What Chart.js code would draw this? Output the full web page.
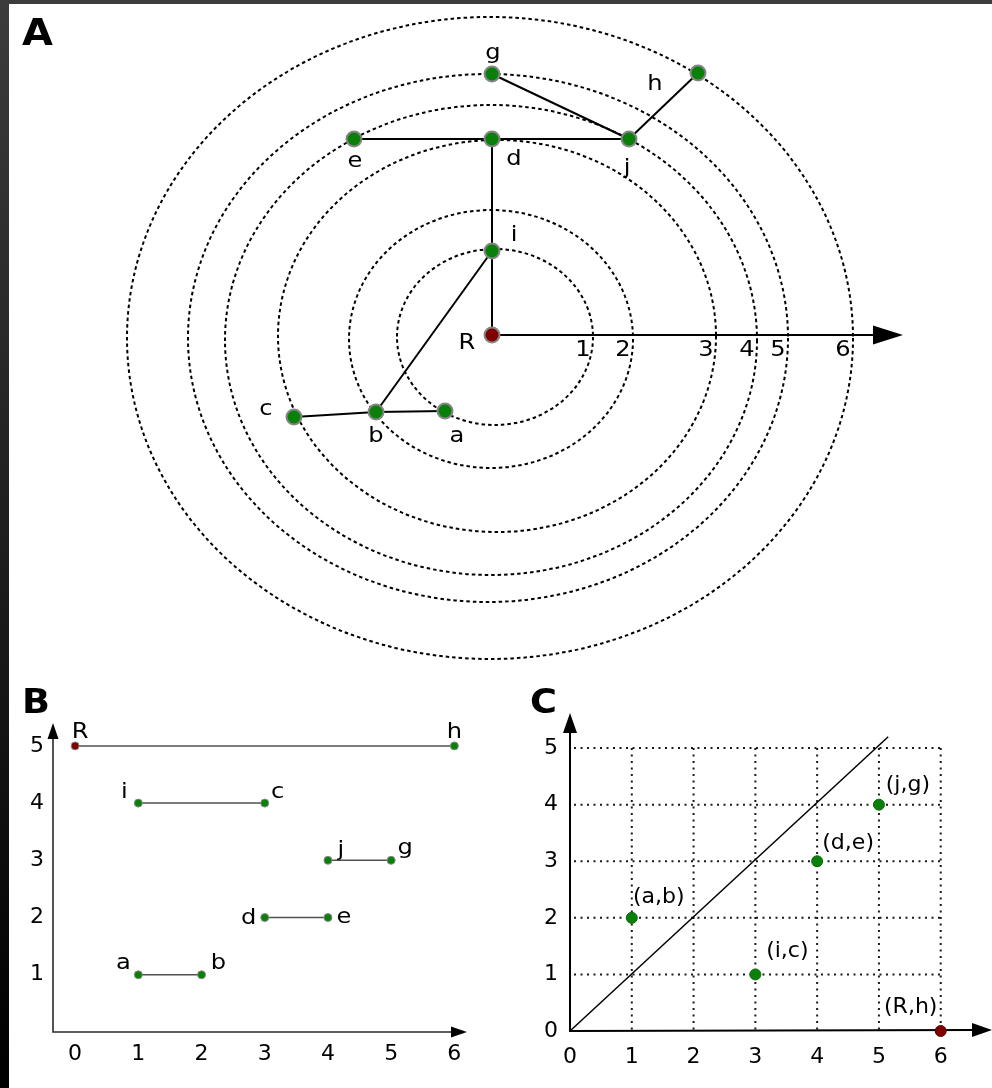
<!DOCTYPE html>
<html>
<head>
<meta charset="utf-8">
<script src="https://cdn.jsdelivr.net/npm/chart.js@4.4.1/dist/chart.umd.min.js"></script>
<style>
  html, body { margin: 0; padding: 0; background: #fff; }
  body { width: 992px; height: 1088px; position: relative; overflow: hidden; }
  #edgeLeft { position: absolute; left: 0; top: 0; width: 9px; height: 1088px; background: linear-gradient(#3c3c3c, #000); z-index: 5; }
  #edgeTop { position: absolute; left: 0; top: 0; width: 992px; height: 4px; background: #3c3c3c; z-index: 5; }
  canvas { position: absolute; display: block; }
</style>
</head>
<body>
<div id="edgeLeft"></div>
<div id="edgeTop"></div>
<canvas id="chartA" width="992" height="680" style="left:0;top:0"></canvas>
<canvas id="chartB" width="480" height="408" style="left:0;top:680px"></canvas>
<canvas id="chartC" width="482" height="408" style="left:510px;top:680px"></canvas>
<script>
// ---------- Panel A: tree of nodes on nested filtration rings ----------
// node plane coordinates (origin at the root R, y pointing up)
const nodeNames = ['R', 'i', 'd', 'g', 'e', 'j', 'h', 'c', 'b', 'a'];
const nodeX = [0, 0, 0, 0, -138, 137, 206, -198, -116, -47];
const nodeY = [0, 84, 196, 261, 196, 196, 262, -82, -77, -76];
const edges = [['R', 'i'], ['i', 'd'], ['d', 'e'], ['d', 'j'], ['j', 'g'], ['j', 'h'], ['i', 'b'], ['b', 'c'], ['b', 'a']];
// rings: level value, centre and half-axes in plane units
const levels = [1, 2, 3, 4, 5, 6];
const ringCx = [3, -1, 5, -1, -4, -2];
const ringCy = [-2, -4, -1, -5, -3, -3];
const ringRx = [98, 142, 219, 266, 300, 363];
const ringRy = [88, 129, 196, 235, 264, 321];
const axisEndA = 411;

// ---------- Panel B: barcode ----------
const barStart = ['R', 'i', 'j', 'd', 'a'];
const barEnd = ['h', 'c', 'g', 'e', 'b'];
const barBirth = [0, 1, 4, 3, 1];
const barDeath = [6, 3, 5, 4, 2];
const barRow = [5, 4, 3, 2, 1];
const bTicksX = [0, 1, 2, 3, 4, 5, 6];
const bTicksY = [1, 2, 3, 4, 5];

// ---------- Panel C: persistence diagram ----------
const pairNames = ['(a,b)', '(i,c)', '(d,e)', '(j,g)', '(R,h)'];
const pairX = [1, 3, 4, 5, 6];
const pairY = [2, 1, 3, 4, 0];
const diagX = [0, 5.15];
const diagY = [0, 5.2];
const cTicksX = [0, 1, 2, 3, 4, 5, 6];
const cTicksY = [0, 1, 2, 3, 4, 5];

// ---------- styling ----------
const GREEN = '#0a800a';
const DARKRED = '#800000';
const FONT = '"DejaVu Sans", sans-serif';
const TEXT_STRETCH = 1.15;
Chart.defaults.font.family = FONT;
Chart.defaults.color = '#000';
Chart.defaults.animation = false;

const labelA = { R: [-25, 9], i: [22, -15], d: [22, 21], g: [1, -20], e: [1, 23], j: [-2, 30], h: [-43, 12], c: [-28, -7], b: [0, 25], a: [12, 26] };
const labelB = { R: [5, -13], h: [0, -13], i: [-14, -11], c: [13, -11], j: [13, -10], g: [14, -12], d: [-16, 1], e: [16, 0], a: [-15, -11], b: [17, -11] };
const labelC = [[27, -20], [32, -23], [31, -18], [29, -19], [-30, -23]];

function arrowHead(ctx, tx, ty, dir, len, half) {
  ctx.beginPath();
  if (dir === 'right') {
    ctx.moveTo(tx, ty); ctx.lineTo(tx - len, ty - half); ctx.lineTo(tx - len, ty + half);
  } else {
    ctx.moveTo(tx, ty); ctx.lineTo(tx - half, ty + len); ctx.lineTo(tx + half, ty + len);
  }
  ctx.closePath();
  ctx.fill();
}

// text drawn slightly widened around its anchor
function wideText(ctx, text, x, y, sx) {
  ctx.save();
  ctx.translate(x, y);
  ctx.scale(sx, 1);
  ctx.fillText(text, 0, 0);
  ctx.restore();
}

function panelLetter(ctx, letter, x, y, size) {
  ctx.font = 'bold ' + size + 'px ' + FONT;
  ctx.textAlign = 'left';
  ctx.textBaseline = 'alphabetic';
  wideText(ctx, letter, x, y, 1.08);
}

const nodeIndex = n => nodeNames.indexOf(n);

// ===== Chart A =====
const ringsPlugin = {
  id: 'rings',
  beforeDatasetsDraw(chart) {
    const { ctx, scales: { x, y } } = chart;
    ctx.save();
    ctx.strokeStyle = '#000';
    ctx.fillStyle = '#000';
    ctx.lineWidth = 2;
    ctx.setLineDash([3.5, 3]);
    ringRx.forEach((rx, k) => {
      const cx = x.getPixelForValue(ringCx[k]);
      const cy = y.getPixelForValue(ringCy[k]);
      const prx = x.getPixelForValue(ringCx[k] + rx) - cx;
      const pry = cy - y.getPixelForValue(ringCy[k] + ringRy[k]);
      ctx.beginPath();
      ctx.ellipse(cx, cy, prx, pry, 0, 0, Math.PI * 2);
      ctx.stroke();
    });
    ctx.setLineDash([]);
    const ox = x.getPixelForValue(0), oy = y.getPixelForValue(0);
    const tip = x.getPixelForValue(axisEndA);
    ctx.beginPath();
    ctx.moveTo(ox, oy);
    ctx.lineTo(tip - 28, oy);
    ctx.stroke();
    arrowHead(ctx, tip, oy, 'right', 30, 9.5);
    ctx.font = '21px ' + FONT;
    ctx.textAlign = 'center';
    ctx.textBaseline = 'middle';
    levels.forEach((lv, k) => {
      const px = x.getPixelForValue(ringCx[k] + ringRx[k]);
      wideText(ctx, String(lv), px - 10, oy + 16, TEXT_STRETCH);
    });
    ctx.restore();
  },
  afterDatasetsDraw(chart) {
    const { ctx, scales: { x, y } } = chart;
    ctx.save();
    ctx.fillStyle = '#000';
    ctx.font = '21px ' + FONT;
    ctx.textAlign = 'center';
    ctx.textBaseline = 'middle';
    nodeNames.forEach((n, k) => {
      const off = labelA[n];
      wideText(ctx, n, x.getPixelForValue(nodeX[k]) + off[0], y.getPixelForValue(nodeY[k]) + off[1], TEXT_STRETCH);
    });
    panelLetter(ctx, 'A', 22, 45, 37);
    ctx.restore();
  }
};

const edgeSets = edges.map(([p, q]) => ({
  type: 'line',
  order: 1,
  data: [{ x: nodeX[nodeIndex(p)], y: nodeY[nodeIndex(p)] }, { x: nodeX[nodeIndex(q)], y: nodeY[nodeIndex(q)] }],
  borderColor: '#000',
  borderWidth: 2,
  pointRadius: 0,
  showLine: true,
  clip: false
}));

new Chart(document.getElementById('chartA'), {
  type: 'scatter',
  data: {
    datasets: [{
      order: 0,
      data: nodeNames.map((n, k) => ({ x: nodeX[k], y: nodeY[k] })),
      pointRadius: 7.5,
      pointBackgroundColor: nodeNames.map(n => n === 'R' ? DARKRED : GREEN),
      pointBorderColor: '#858585',
      pointBorderWidth: 2,
      clip: false
    }, ...edgeSets]
  },
  options: {
    responsive: false,
    layout: { padding: 0, autoPadding: false },
    plugins: { legend: { display: false }, tooltip: { enabled: false } },
    events: [],
    scales: {
      x: { type: 'linear', display: false, min: -492, max: 500 },
      y: { type: 'linear', display: false, min: -345, max: 335 }
    }
  },
  plugins: [ringsPlugin]
});

// ===== Chart B =====
const barcodePlugin = {
  id: 'barcodeAxes',
  beforeDatasetsDraw(chart) {
    const { ctx, chartArea: a } = chart;
    ctx.save();
    ctx.strokeStyle = '#2a2a2a';
    ctx.fillStyle = '#000';
    ctx.lineWidth = 1.6;
    ctx.beginPath();
    ctx.moveTo(a.left, a.top + 14);
    ctx.lineTo(a.left, a.bottom);
    ctx.lineTo(a.right - 14, a.bottom);
    ctx.stroke();
    arrowHead(ctx, a.left, a.top, 'up', 16, 5.5);
    arrowHead(ctx, a.right, a.bottom, 'right', 16, 5.5);
    ctx.restore();
  },
  afterDatasetsDraw(chart) {
    const { ctx, scales: { x, y } } = chart;
    ctx.save();
    ctx.fillStyle = '#000';
    ctx.font = '21px ' + FONT;
    ctx.textAlign = 'center';
    ctx.textBaseline = 'middle';
    barRow.forEach((r, k) => {
      const py = y.getPixelForValue(r);
      const s = labelB[barStart[k]], e = labelB[barEnd[k]];
      wideText(ctx, barStart[k], x.getPixelForValue(barBirth[k]) + s[0], py + s[1], TEXT_STRETCH);
      wideText(ctx, barEnd[k], x.getPixelForValue(barDeath[k]) + e[0], py + e[1], TEXT_STRETCH);
    });
    panelLetter(ctx, 'B', 22, 33, 34);
    ctx.restore();
  }
};

new Chart(document.getElementById('chartB'), {
  type: 'scatter',
  data: {
    datasets: barRow.map((r, k) => ({
      type: 'line',
      data: [{ x: barBirth[k], y: r }, { x: barDeath[k], y: r }],
      showLine: true,
      borderColor: '#505050',
      borderWidth: 1.5,
      pointRadius: 4,
      pointBorderWidth: 1,
      pointBorderColor: '#8a8a8a',
      pointBackgroundColor: [barStart[k] === 'R' ? DARKRED : GREEN, GREEN],
      clip: false
    }))
  },
  options: {
    responsive: false,
    layout: { padding: { top: 43, right: 13, left: 0, bottom: 0 }, autoPadding: false },
    plugins: { legend: { display: false }, tooltip: { enabled: false } },
    events: [],
    scales: {
      x: {
        type: 'linear', min: -0.35, max: 6.2,
        afterBuildTicks: s => { s.ticks = bTicksX.map(v => ({ value: v })); },
        afterFit: s => { s.height = 56; },
        grid: { display: false, drawTicks: false },
        border: { display: false },
        ticks: { font: { size: 22 }, padding: 9, color: '#000' }
      },
      y: {
        type: 'linear', min: 0, max: 5.4,
        afterBuildTicks: s => { s.ticks = bTicksY.map(v => ({ value: v })); },
        afterFit: s => { s.width = 53; },
        grid: { display: false, drawTicks: false },
        border: { display: false },
        ticks: { font: { size: 22 }, padding: 9, color: '#000' }
      }
    }
  },
  plugins: [barcodePlugin]
});

// ===== Chart C =====
const diagramPlugin = {
  id: 'diagramAxes',
  beforeDatasetsDraw(chart) {
    const { ctx, chartArea: a, scales: { x, y } } = chart;
    ctx.save();
    // dotted grid bounded by the last tick values
    const xEnd = cTicksX[cTicksX.length - 1], yEnd = cTicksY[cTicksY.length - 1];
    ctx.strokeStyle = '#1a1a1a';
    ctx.lineWidth = 2;
    ctx.setLineDash([2, 4.5]);
    cTicksX.slice(1).forEach(v => {
      const px = x.getPixelForValue(v);
      ctx.beginPath();
      ctx.moveTo(px, y.getPixelForValue(yEnd));
      ctx.lineTo(px, y.getPixelForValue(0));
      ctx.stroke();
    });
    cTicksY.slice(1).forEach(v => {
      const py = y.getPixelForValue(v);
      ctx.beginPath();
      ctx.moveTo(x.getPixelForValue(0) + 4, py);
      ctx.lineTo(x.getPixelForValue(xEnd), py);
      ctx.stroke();
    });
    ctx.setLineDash([]);
    // axes with arrowheads
    ctx.strokeStyle = '#000';
    ctx.fillStyle = '#000';
    ctx.lineWidth = 2;
    ctx.beginPath();
    ctx.moveTo(a.left, a.top + 18);
    ctx.lineTo(a.left, a.bottom);
    ctx.lineTo(a.right - 18, a.bottom - 1);
    ctx.stroke();
    arrowHead(ctx, a.left, a.top, 'up', 20, 7);
    arrowHead(ctx, a.right, a.bottom - 1, 'right', 20, 7);
    ctx.restore();
  },
  afterDatasetsDraw(chart) {
    const { ctx, scales: { x, y } } = chart;
    ctx.save();
    ctx.fillStyle = '#000';
    ctx.font = '21px ' + FONT;
    ctx.textAlign = 'center';
    ctx.textBaseline = 'middle';
    pairNames.forEach((n, k) => {
      wideText(ctx, n, x.getPixelForValue(pairX[k]) + labelC[k][0], y.getPixelForValue(pairY[k]) + labelC[k][1], 1.05);
    });
    panelLetter(ctx, 'C', 20, 33, 34);
    ctx.restore();
  }
};

new Chart(document.getElementById('chartC'), {
  type: 'scatter',
  data: {
    datasets: [{
      order: 0,
      data: pairX.map((v, k) => ({ x: v, y: pairY[k] })),
      pointRadius: 5.5,
      pointBorderWidth: 1,
      pointBorderColor: pairNames.map(n => n === '(R,h)' ? '#5a0000' : '#0a6a0a'),
      pointBackgroundColor: pairNames.map(n => n === '(R,h)' ? DARKRED : GREEN),
      clip: false
    }, {
      type: 'line',
      order: 1,
      data: diagX.map((v, k) => ({ x: v, y: diagY[k] })),
      showLine: true,
      borderColor: '#000',
      borderWidth: 1.5,
      pointRadius: 0,
      clip: false
    }]
  },
  options: {
    responsive: false,
    layout: { padding: { top: 33, right: 0, left: 0, bottom: 0 }, autoPadding: false },
    plugins: { legend: { display: false }, tooltip: { enabled: false } },
    events: [],
    scales: {
      x: {
        type: 'linear', min: 0, max: 6.83,
        afterBuildTicks: s => { s.ticks = cTicksX.map(v => ({ value: v })); },
        afterFit: s => { s.height = 57; },
        grid: { display: false, drawTicks: false },
        border: { display: false },
        ticks: { font: { size: 22 }, padding: 13, color: '#000' }
      },
      y: {
        type: 'linear', min: 0, max: 5.62,
        afterBuildTicks: s => { s.ticks = cTicksY.map(v => ({ value: v })); },
        afterFit: s => { s.width = 60; },
        grid: { display: false, drawTicks: false },
        border: { display: false },
        ticks: { font: { size: 22 }, padding: 12, color: '#000' }
      }
    }
  },
  plugins: [diagramPlugin]
});
</script>
</body>
</html>
